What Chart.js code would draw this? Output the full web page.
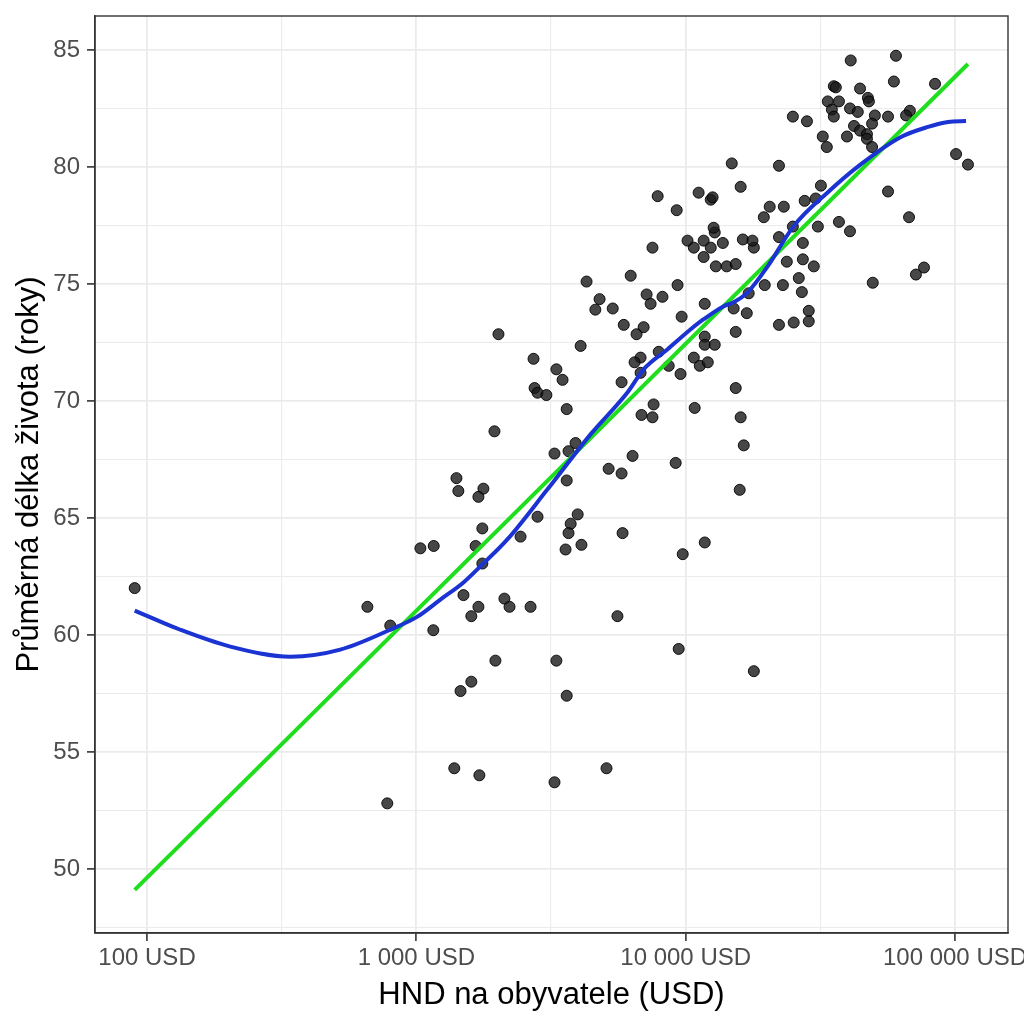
<!DOCTYPE html>
<html>
<head>
<meta charset="utf-8">
<script src="https://cdn.jsdelivr.net/npm/chart.js@4.4.1/dist/chart.umd.min.js"></script>
<style>
html,body{margin:0;padding:0;background:#fff;}
canvas{display:block;}
</style>
</head>
<body>
<canvas id="chart" width="1024" height="1024"></canvas>
<script>
// HND na obyvatele (USD) vs. průměrná délka života
const gniPerCapita=[
  90,658,800,780,1156,1035,1160,1660,2437,1758,2818,3972,3741,3673,4102,3581,
  2018,4074,2723,3311,3490,2748,2818,3040,3616,1950,3258,3673,3900,1409,1432,1774,
  1700,3616,1496,1700,1600,2123,2218,2655,5580,1966,3311,1600,1459,3616,1383,1714,
  3258,5082,1758,
  5780,7600,6855,7530,10800,15340,16000,16430,6350,5175,5780,9180,15870,5830,11770,9750,
  9420,17910,
  7530,10160,10720,11660,12390,12820,13740,11660,12940,14200,15340,16300,17910,17700,22200,23740,
  19660,22960,17140,15070,16860,15340,22200,4285,6250,4790,4620,5360,7160,8200,7410,9330,
  9660,11770,5890,6980,6570,11770,11770,12820,10720,11280,12080,6800,6460,7940,6800,8650,9570,
  14830,22200,32280,33420,31770,16000,7870,11170,12390,12590,9260,20510,23140,27660,30380,19500,
  25000,30960,37070,12700,27230,27230,29900,26300,27000,28640,28640,25180,
  41000,60350,59300,84300,35480,36100,44400,47500,47900,33700,37070,34900,40740,43550,35480,50400,
  56400,68000,65800,25000,28200,42170,49200,44400,47100,47100,39700,49200,56400,100900,111700,67500,
  40740,76700,71600,49500
];
const lifeExpectancy=[
  62.0,61.2,60.4,52.8,60.2,63.7,63.8,63.8,64.2,64.55,65.05,65.15,64.75,64.35,63.85,63.65,
  72.85,72.35,71.8,71.35,70.9,70.55,70.35,70.25,69.65,68.7,67.75,67.85,68.2,66.7,66.15,66.25,
  65.9,66.6,61.7,61.2,60.8,61.55,61.2,61.2,60.8,58.9,58.9,58.0,57.6,57.4,54.3,54.0,
  53.7,54.3,63.05,
  70.8,69.85,69.4,69.3,69.7,70.55,69.3,68.1,67.65,67.1,66.9,67.35,66.2,64.35,63.95,63.45,
  59.4,58.45,
  76.55,76.85,76.55,76.85,76.55,77.2,76.75,76.15,75.75,75.75,75.85,76.9,76.55,76.85,77.0,75.95,
  74.95,74.95,74.6,73.95,73.75,72.95,73.25,75.1,75.35,74.35,73.9,73.95,74.55,74.45,74.15,74.95,
  73.6,74.15,73.25,73.15,72.85,72.75,72.4,72.4,71.85,71.5,71.65,71.85,71.65,72.1,71.2,71.5,71.15,
  80.15,80.05,81.3,80.85,79.2,79.15,78.75,78.9,78.6,78.7,78.15,78.3,78.3,78.55,78.65,77.85,
  77.45,77.45,77.65,77.4,76.75,76.05,75.75,75.25,74.65,73.85,73.4,73.35,
  84.55,84.75,83.65,83.55,83.45,83.4,83.35,82.95,82.8,82.8,82.8,82.45,82.5,82.35,82.15,82.2,
  82.15,82.4,82.2,82.15,81.95,81.75,81.85,81.55,81.4,81.2,81.3,80.85,78.95,80.55,80.1,77.85,
  77.25,75.7,75.4,75.05
];

// lineární model (zelená) - koncové body
const linearFitX=[90,111700];
const linearFitY=[49.1,84.4];

// LOESS (modrá)
const loessX=[90,133,204,341,522,800,1009,1228,1496,1758,2177,3068,4433,6087,6980,8570,
  10440,11660,13840,15070,16990,20180,25180,33730,44770,63000,79400,94250,109900];
const loessY=[61.04,60.22,59.5,59.07,59.37,60.22,60.78,61.51,62.24,63.01,64.08,66.22,68.57,70.37,71.35,72.21,
  73.06,73.49,74.05,74.22,74.64,75.76,77.47,78.92,80.12,81.28,81.71,81.92,81.96];

const xMajor=[100,1000,10000,100000];
const yMajor=[50,55,60,65,70,75,80,85];

const xMinor=xMajor.slice(0,-1).map(v=>v*Math.sqrt(10));
const yMinor=[47.5,52.5,57.5,62.5,67.5,72.5,77.5,82.5];

const FONT="'Liberation Sans', Arial, sans-serif";
const fmtUsd=v=>String(Math.round(v)).replace(/\B(?=(\d{3})+(?!\d))/g,' ')+' USD';
const zip=(xs,ys)=>xs.map((x,i)=>({x,y:ys[i]}));

const panelBorder={
  id:'panelBorder',
  afterDraw(chart){
    const {ctx,chartArea:a}=chart;
    ctx.save();
    ctx.strokeStyle='#333';
    ctx.lineWidth=1.4;
    ctx.strokeRect(a.left,a.top,a.right-a.left,a.bottom-a.top);
    ctx.restore();
  }
};

const isMajX=v=>xMajor.some(m=>Math.abs(m-v)<1e-6*m);
const isMajY=v=>yMajor.includes(v);

new Chart(document.getElementById('chart'),{
  type:'scatter',
  data:{datasets:[
    {label:'LOESS',data:zip(loessX,loessY),showLine:true,borderColor:'#1b33d2',borderWidth:4,
     pointRadius:0,tension:0.4,cubicInterpolationMode:'monotone',order:0},
    {label:'Lineární',data:zip(linearFitX,linearFitY),showLine:true,borderColor:'#1ede1e',borderWidth:4,
     pointRadius:0,order:1},
    {label:'Země',data:zip(gniPerCapita,lifeExpectancy),pointRadius:5.5,
     backgroundColor:'rgba(25,25,25,0.8)',borderColor:'rgba(0,0,0,0.9)',borderWidth:1,order:2}
  ]},
  plugins:[panelBorder],
  options:{
    responsive:false,animation:false,
    layout:{padding:{top:16,right:16,left:0,bottom:0}},
    plugins:{legend:{display:false},tooltip:{enabled:false}},
    scales:{
      x:{type:'logarithmic',min:64.1,max:157300,
        afterBuildTicks:s=>{s.ticks=[...xMajor,...xMinor].sort((a,b)=>a-b).map(v=>({value:v}));},
        afterFit:s=>{s.height=91;s.paddingLeft=0;s.paddingRight=0;},
        ticks:{autoSkip:false,maxRotation:0,minRotation:0,padding:3,color:'#4d4d4d',
          font:{family:FONT,size:24},callback:v=>isMajX(v)?fmtUsd(v):''},
        grid:{color:'#ebebeb',lineWidth:c=>isMajX(c.tick.value)?1.8:1.1,
          tickColor:c=>isMajX(c.tick.value)?'#333':'rgba(0,0,0,0)',
          tickWidth:c=>isMajX(c.tick.value)?1.6:0,tickLength:8},
        border:{color:'#333',width:1.4},
        title:{display:true,text:'HND na obyvatele (USD)',color:'#000',
          font:{family:FONT,size:31},padding:{top:0,bottom:10}}
      },
      y:{type:'linear',min:47.26,max:86.45,
        afterBuildTicks:s=>{s.ticks=[...yMajor,...yMinor].sort((a,b)=>a-b).map(v=>({value:v}));},
        afterFit:s=>{s.width=95;s.paddingTop=0;s.paddingBottom=0;},
        ticks:{autoSkip:false,padding:7,color:'#4d4d4d',font:{family:FONT,size:24},
          callback:v=>isMajY(v)?String(v):''},
        grid:{color:'#ebebeb',lineWidth:c=>isMajY(c.tick.value)?1.8:1.1,
          tickColor:c=>isMajY(c.tick.value)?'#333':'rgba(0,0,0,0)',
          tickWidth:c=>isMajY(c.tick.value)?1.6:0,tickLength:8},
        border:{color:'#333',width:1.4},
        title:{display:true,text:'Průměrná délka života (roky)',color:'#000',
          font:{family:FONT,size:31},padding:{top:11,bottom:0}}
      }
    }
  }
});
</script>
</body>
</html>
